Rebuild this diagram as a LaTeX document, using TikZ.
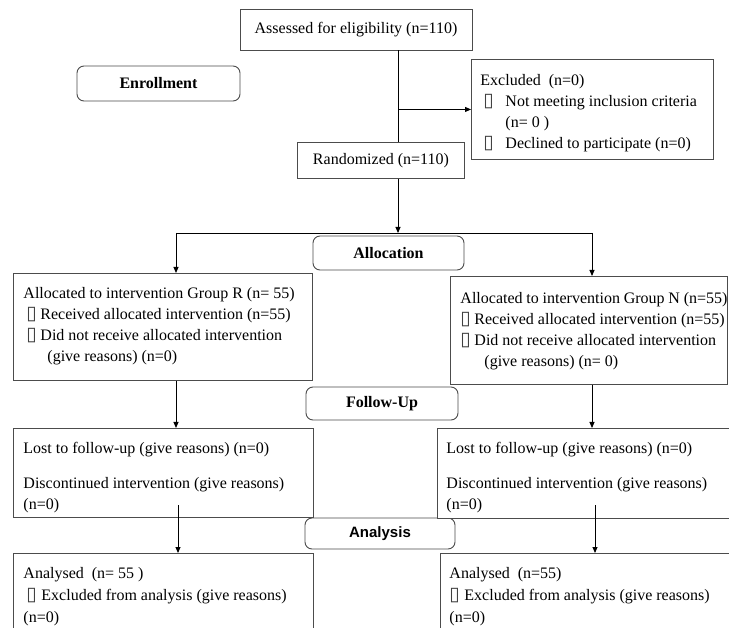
\documentclass[tikz,border=0pt]{standalone}
\usepackage{fontspec}
\setmainfont{Liberation Serif}
\newfontfamily\sansb{Liberation Sans}
\newfontfamily\symfont{DejaVu Sans}
\usetikzlibrary{arrows.meta}
\newcommand\sqb{{\symfont\fontsize{19}{19}\selectfont\color{black!75}▯}}
% #1 width, #2 height, #3 left pad, #4 first baseline, #5 content
\newcommand\bxt[5]{\parbox[c][#2][t]{#1}{\fontsize{16}{21}\selectfont\raggedright\leftskip=#3\parindent=0pt\rule{0pt}{#4}#5}}
\tikzset{
  bx/.style={draw=black!70, line width=0.9pt, inner sep=0pt, fill=white, anchor=north west},
  lbl/.style={draw=black!70, line width=0.9pt, rounded corners=7pt, fill=white, inner sep=0pt,
    font=\bfseries\fontsize{16}{16}\selectfont},
  conn/.style={line width=0.9pt, black},
  arr/.style={conn, -{Triangle[length=6pt,width=5pt]}}
}
\begin{document}
\begin{tikzpicture}[x=1pt,y=-1pt]
\useasboundingbox (0,0) rectangle (729,628);
\clip (0,0) rectangle (729,628);
\fill[white] (0,0) rectangle (729,628);

% spine and branch coordinates
\coordinate (spine) at (398,0);
\coordinate (hL) at (176,233);
\coordinate (hR) at (592,233);
\coordinate (aL) at (178,505);
\coordinate (aR) at (595,505);

\node[bx, minimum width=232pt, minimum height=41pt, anchor=center, font=\fontsize{16}{16}\selectfont]
  (assess) at (356,29.5) {Assessed for eligibility (n=110)};
\node[bx] (rand) at (297,142) {\parbox[c][36pt][c]{167pt}{\centering\fontsize{16}{16}\selectfont Randomized (n=110)}};
\node[bx] (excl) at (471,59) {\bxt{242pt}{100pt}{9pt}{26pt}{Excluded\ \ (n=0)\\
  \hspace*{3pt}\makebox[22pt][l]{\sqb}Not meeting inclusion criteria\\
  \hspace*{25pt}(n= 0 )\\
  \hspace*{3pt}\makebox[22pt][l]{\sqb}Declined to participate (n=0)}};

\node[lbl, minimum width=163pt, minimum height=35pt] (enroll) at (158.5,83.5) {Enrollment};
\node[lbl, minimum width=151pt, minimum height=34pt] (alloc) at (388.5,253) {Allocation};
\node[lbl, minimum width=152pt, minimum height=33pt] (follow) at (382,403.5) {Follow-Up};
\node[lbl, minimum width=150pt, minimum height=31pt, font=\sansb\bfseries\fontsize{15}{15}\selectfont] (analysis) at (380,533.5) {Analysis};

\node[bx] (allocR) at (13,273) {\bxt{299pt}{107pt}{10pt}{25pt}{Allocated to intervention Group R (n= 55)\\
  \hspace*{3pt}\makebox[14pt][l]{\sqb}Received allocated intervention (n=55)\\
  \hspace*{3pt}\makebox[14pt][l]{\sqb}Did not receive allocated intervention\\
  \hspace*{24pt}(give reasons) (n=0)}};
\node[bx] (allocN) at (450,276) {\bxt{277pt}{108pt}{10pt}{27pt}{Allocated to intervention Group N (n=55)\\
  \hspace*{0pt}\makebox[14pt][l]{\sqb}Received allocated intervention (n=55)\\
  \hspace*{0pt}\makebox[14pt][l]{\sqb}Did not receive allocated intervention\\
  \hspace*{24pt}(give reasons) (n= 0)}};

\node[bx] (lostL) at (13,428) {\bxt{300pt}{89pt}{10pt}{25pt}{Lost to follow-up (give reasons) (n=0)\\[14pt]
  Discontinued intervention (give reasons)\\
  (n=0)}};
\node[bx] (lostR) at (437,428) {\bxt{310pt}{90pt}{9pt}{25pt}{Lost to follow-up (give reasons) (n=0)\\[14pt]
  Discontinued intervention (give reasons)\\
  (n=0)}};

\node[bx] (anL) at (13,553) {\bxt{300pt}{95pt}{10pt}{25pt}{Analysed\ \ (n= 55 )\\[1pt]
  \hspace*{3pt}\makebox[15pt][l]{\sqb}Excluded from analysis (give reasons)\\[1pt]
  (n=0)}};
\node[bx] (anR) at (440,553) {\bxt{310pt}{95pt}{9pt}{25pt}{Analysed\ \ (n=55)\\[1pt]
  \hspace*{0pt}\makebox[15pt][l]{\sqb}Excluded from analysis (give reasons)\\[1pt]
  (n=0)}};

% connectors
\draw[conn] (spine |- assess.south) -- (spine |- rand.north);
\draw[arr] (spine |- excl.west) -- (excl.west);
\draw[arr] (spine |- rand.south) -- (spine |- hL);
\draw[conn] (hL) -- (hR);
\draw[arr] (hL) -- (hL |- allocR.north);
\draw[arr] (hR) -- (hR |- allocN.north);
\draw[arr] (hL |- allocR.south) -- (hL |- lostL.north);
\draw[arr] (hR |- allocN.south) -- (hR |- lostR.north);
\draw[arr] (aL) -- (aL |- anL.north);
\draw[arr] (aR) -- (aR |- anR.north);
\end{tikzpicture}
\end{document}
